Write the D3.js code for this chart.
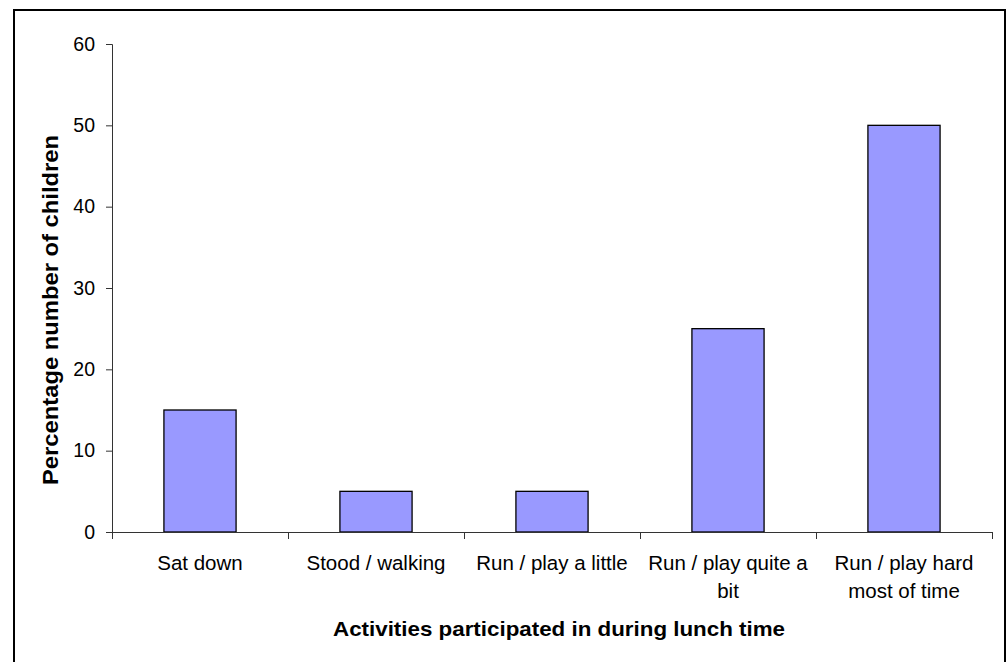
<!DOCTYPE html>
<html>
<head>
<meta charset="utf-8">
<script src="https://cdn.jsdelivr.net/npm/d3@7"></script>
<style>
  body { margin: 0; background: #fff; }
  text { font-family: "Liberation Sans", Arial, sans-serif; fill: #000; }
</style>
</head>
<body>
<script>
const categories = ["Sat down", "Stood / walking", "Run / play a little", "Run / play quite a bit", "Run / play hard most of time"];
const values = [15, 5, 5, 25, 50];
const yTicks = [0, 10, 20, 30, 40, 50, 60];
const xTitle = "Activities participated in during lunch time";
const yTitle = "Percentage number of children";

const width = 1007, height = 662;
const plotL = 112, plotR = 992, plotT = 44, plotB = 532;

const svg = d3.select("body").append("svg")
  .attr("width", width)
  .attr("height", height);

// outer chart frame
svg.append("rect")
  .attr("x", 14).attr("y", 10)
  .attr("width", 991).attr("height", 660)
  .attr("fill", "none")
  .attr("stroke", "#000")
  .attr("stroke-width", 2);

const x = d3.scaleBand().domain(categories).range([plotL, plotR]).padding(0);
const y = d3.scaleLinear().domain([0, 60]).range([plotB, plotT]);
const barW = x.bandwidth() * 0.41;

// bars
svg.append("g")
  .selectAll("rect")
  .data(categories)
  .join("rect")
  .attr("x", d => x(d) + (x.bandwidth() - barW) / 2)
  .attr("y", (d, i) => y(values[i]))
  .attr("width", barW)
  .attr("height", (d, i) => y(0) - y(values[i]))
  .attr("fill", "#9999ff")
  .attr("stroke", "#000")
  .attr("stroke-width", 1.3);

// y axis
const yAxis = svg.append("g")
  .attr("transform", `translate(${plotL},0)`)
  .call(d3.axisLeft(y).tickValues(yTicks).tickSize(6).tickPadding(11));
yAxis.select(".domain").attr("stroke", "#333");
yAxis.selectAll(".tick line").attr("stroke", "#333");
yAxis.selectAll("text").attr("font-size", 19.5).attr("font-family", null);

// x axis: line plus ticks on category boundaries
const xg = svg.append("g");
xg.append("line")
  .attr("x1", plotL).attr("x2", plotR)
  .attr("y1", plotB + 0.5).attr("y2", plotB + 0.5)
  .attr("stroke", "#333");
const bounds = categories.map(d => x(d)).concat([plotR]);
xg.selectAll(".bt")
  .data(bounds)
  .join("line")
  .attr("x1", d => Math.round(d) + 0.5).attr("x2", d => Math.round(d) + 0.5)
  .attr("y1", plotB).attr("y2", plotB + 7)
  .attr("stroke", "#333");

// category labels, wrapped to the band width
xg.selectAll(".cat")
  .data(categories)
  .join("text")
  .attr("class", "cat")
  .attr("x", d => x(d) + x.bandwidth() / 2)
  .attr("y", 570)
  .attr("text-anchor", "middle")
  .attr("font-size", 20.5)
  .each(function (d) {
    const el = d3.select(this);
    const cx = x(d) + x.bandwidth() / 2;
    const words = d.split(" ");
    let line = [];
    let ts = el.append("tspan").attr("x", cx);
    for (const w of words) {
      line.push(w);
      ts.text(line.join(" "));
      if (ts.node().getComputedTextLength() > x.bandwidth() && line.length > 1) {
        line.pop();
        ts.text(line.join(" "));
        line = [w];
        ts = el.append("tspan").attr("x", cx).attr("dy", 28).text(w);
      }
    }
  });

// axis titles
svg.append("text")
  .attr("x", 559).attr("y", 636)
  .attr("text-anchor", "middle")
  .attr("font-size", 21)
  .attr("font-weight", "bold")
  .attr("textLength", 452)
  .attr("lengthAdjust", "spacingAndGlyphs")
  .text(xTitle);

svg.append("text")
  .attr("transform", "translate(58,310) rotate(-90)")
  .attr("text-anchor", "middle")
  .attr("font-size", 22)
  .attr("font-weight", "bold")
  .attr("textLength", 350)
  .attr("lengthAdjust", "spacingAndGlyphs")
  .text(yTitle);
</script>
</body>
</html>
